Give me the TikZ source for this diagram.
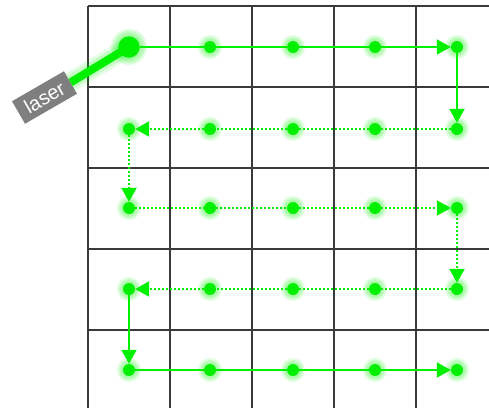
\documentclass[tikz,border=0pt]{standalone}
\usepackage{fontspec}
\setmainfont{Liberation Sans}
\usetikzlibrary{arrows.meta}
\definecolor{laserg}{HTML}{00F000}
\definecolor{gridc}{HTML}{3A3A3A}
\definecolor{boxg}{HTML}{7F7F7F}
\tikzset{
  gridline/.style={draw=gridc,line width=1.3pt},
  dot/.style={circle,fill=laserg,inner sep=0pt,minimum size=12pt},
  bigdot/.style={circle,fill=laserg,inner sep=0pt,minimum size=21pt},
  glowc/.style={fill=laserg,opacity=0.12},
  solidlink/.style={draw=laserg,line width=2pt,-{Triangle[length=14pt,width=15pt]}},
  dottedlink/.style={draw=laserg,line width=2.2pt,dash pattern=on 2pt off 2pt,-{Triangle[length=14pt,width=15pt]}},
  plainlink/.style={draw=laserg,line width=2pt},
  laserbox/.style={rectangle,fill=boxg,text=white,rotate=30,minimum width=60pt,minimum height=26pt,inner sep=0pt,font=\fontsize{20}{20}\selectfont},
}
\begin{document}
\begin{tikzpicture}[x=1pt,y=-1pt]
\useasboundingbox (0,0) rectangle (489,408);
% grid
\foreach \x in {88,170,252,334,416} \draw[gridline] (\x,6) -- (\x,408);
\foreach \y in {6,87,168,249,330} \draw[gridline] (88,\y) -- (489,\y);
% laser beam glow
\draw[laserg,opacity=0.10,line width=20pt] (44,98) -- (129,47);
\draw[laserg,opacity=0.15,line width=14pt] (44,98) -- (129,47);
% glows
\foreach \cx in {129,210,293,375,457} {
  \foreach \cy in {47,129,208,289,370} {
    \foreach \r in {12,10,8.5} \fill[glowc] (\cx,\cy) circle (\r);
  }
}
\foreach \r in {18,16,14} \fill[glowc] (129,47) circle (\r);
% nodes
\node[laserbox] (laser) at (44.5,97.5) {laser};
\node[bigdot] (p11) at (129,47) {};
\foreach \c/\cx in {2/210,3/293,4/375,5/457} \node[dot] (p1\c) at (\cx,47) {};
\foreach \r/\cy in {2/129,3/208,4/289,5/370} {
  \foreach \c/\cx in {1/129,2/210,3/293,4/375,5/457} \node[dot] (p\r\c) at (\cx,\cy) {};
}
% beam
\draw[laserg,line width=8pt] (laser.east) -- (p11.center);
\node[bigdot] at (129,47) {};
% paths
\draw[plainlink] (p11) -- (p12) -- (p13) -- (p14);
\draw[solidlink] (p14) -- (p15);
\draw[solidlink] (p15) -- (p25);
\draw[plainlink,dash pattern=on 2pt off 2pt,line width=2.2pt] (p25) -- (p24) -- (p23) -- (p22);
\draw[dottedlink] (p22) -- (p21);
\draw[dottedlink] (p21) -- (p31);
\draw[plainlink,dash pattern=on 2pt off 2pt,line width=2.2pt] (p31) -- (p32) -- (p33) -- (p34);
\draw[dottedlink] (p34) -- (p35);
\draw[dottedlink] (p35) -- (p45);
\draw[plainlink,dash pattern=on 2pt off 2pt,line width=2.2pt] (p45) -- (p44) -- (p43) -- (p42);
\draw[dottedlink] (p42) -- (p41);
\draw[solidlink] (p41) -- (p51);
\draw[plainlink] (p51) -- (p52) -- (p53) -- (p54);
\draw[solidlink] (p54) -- (p55);
\end{tikzpicture}
\end{document}
